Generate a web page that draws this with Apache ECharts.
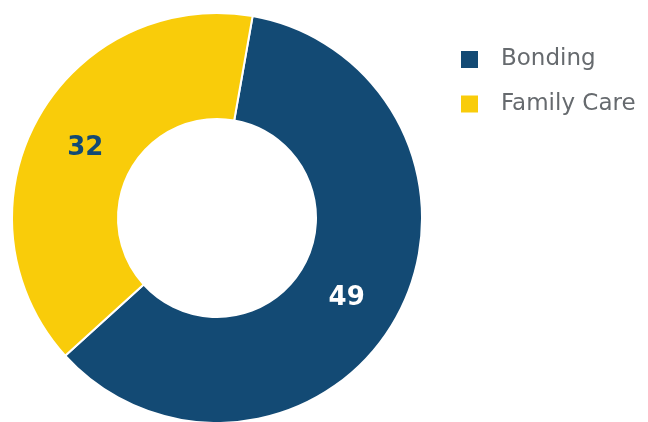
<!DOCTYPE html>
<html>
<head>
<meta charset="utf-8">
<script src="https://cdn.jsdelivr.net/npm/echarts@6/dist/echarts.min.js"></script>
<style>
  html, body { margin: 0; padding: 0; background: #fff; }
  #main { width: 648px; height: 422px; }
</style>
</head>
<body>
<div id="main"></div>
<script>
// data
const categories = ['Bonding', 'Family Care'];
const values = [49, 32];
const colors = ['#134a74', '#f9cc0a'];
const labelColors = ['#ffffff', '#134a74'];
const labelOffsets = [[-6, 5], [4, 5]];

let myChart = echarts.init(document.getElementById('main'));

let option = {
  animation: false,
  legend: {
    orient: 'vertical',
    left: 454,
    top: 43,
    itemWidth: 19,
    itemHeight: 19,
    itemGap: 21.5,
    icon: 'rect',
    data: categories,
    textStyle: {
      fontFamily: 'DejaVu Sans',
      fontSize: 23,
      color: '#666a6e',
      padding: [0, 0, 0, 17]
    }
  },
  series: [
    {
      type: 'pie',
      center: [217, 218],
      radius: [99, 205],
      startAngle: 80,
      itemStyle: { borderColor: '#fff', borderWidth: 2 },
      label: {
        show: true,
        position: 'inside',
        formatter: '{c}',
        fontFamily: 'DejaVu Sans',
        fontWeight: 'bold',
        fontSize: 26
      },
      labelLine: { show: false },
      emphasis: { disabled: true },
      data: categories.map((name, i) => ({
        name: name,
        value: values[i],
        itemStyle: { color: colors[i] },
        label: { color: labelColors[i], offset: labelOffsets[i] }
      }))
    }
  ]
};

myChart.setOption(option);
</script>
</body>
</html>
